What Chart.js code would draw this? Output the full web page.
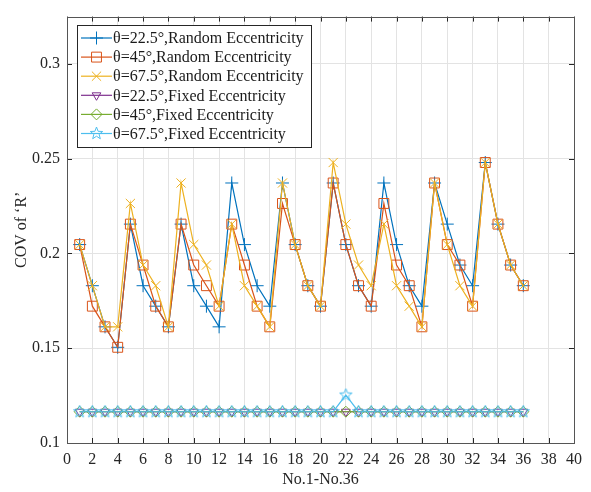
<!DOCTYPE html>
<html>
<head>
<meta charset="utf-8">
<script src="https://cdn.jsdelivr.net/npm/chart.js@4/dist/chart.umd.min.js"></script>
<style>
  body { margin: 0; background: #fff; }
  #wrap { width: 591px; height: 492px; }
</style>
</head>
<body>
<div id="wrap"><canvas id="c" width="591" height="492"></canvas></div>
<script>
// case numbers 1..36
const caseNo = [1,2,3,4,5,6,7,8,9,10,11,12,13,14,15,16,17,18,19,20,21,22,23,24,25,26,27,28,29,30,31,32,33,34,35,36];

const rand225 = [0.2047,0.1830,0.1613,0.1505,0.2155,0.1830,0.1722,0.1613,0.2155,0.1830,0.1722,0.1613,
                 0.2372,0.2047,0.1830,0.1722,0.2372,0.2047,0.1830,0.1722,0.2372,0.2047,0.1830,0.1722,
                 0.2372,0.2047,0.1830,0.1722,0.2372,0.2155,0.1939,0.1830,0.2480,0.2155,0.1939,0.1830];
const rand45  = [0.2047,0.1722,0.1613,0.1505,0.2155,0.1939,0.1722,0.1613,0.2155,0.1939,0.1830,0.1722,
                 0.2155,0.1939,0.1722,0.1613,0.2264,0.2047,0.1830,0.1722,0.2372,0.2047,0.1830,0.1722,
                 0.2264,0.1939,0.1830,0.1613,0.2372,0.2047,0.1939,0.1722,0.2480,0.2155,0.1939,0.1830];
const rand675 = [0.2047,0.1830,0.1613,0.1613,0.2264,0.1939,0.1830,0.1613,0.2372,0.2047,0.1939,0.1722,
                 0.2155,0.1830,0.1722,0.1613,0.2372,0.2047,0.1830,0.1722,0.2480,0.2155,0.1939,0.1830,
                 0.2155,0.1830,0.1722,0.1613,0.2372,0.2047,0.1830,0.1722,0.2480,0.2155,0.1939,0.1830];
const fix225  = [0.1165,0.1165,0.1165,0.1165,0.1165,0.1165,0.1165,0.1165,0.1165,0.1165,0.1165,0.1165,
                 0.1165,0.1165,0.1165,0.1165,0.1165,0.1165,0.1165,0.1165,0.1165,0.1165,0.1165,0.1165,
                 0.1165,0.1165,0.1165,0.1165,0.1165,0.1165,0.1165,0.1165,0.1165,0.1165,0.1165,0.1165];
const fix45   = [0.1165,0.1165,0.1165,0.1165,0.1165,0.1165,0.1165,0.1165,0.1165,0.1165,0.1165,0.1165,
                 0.1165,0.1165,0.1165,0.1165,0.1165,0.1165,0.1165,0.1165,0.1165,0.1165,0.1165,0.1165,
                 0.1165,0.1165,0.1165,0.1165,0.1165,0.1165,0.1165,0.1165,0.1165,0.1165,0.1165,0.1165];
const fix675  = [0.1165,0.1165,0.1165,0.1165,0.1165,0.1165,0.1165,0.1165,0.1165,0.1165,0.1165,0.1165,
                 0.1165,0.1165,0.1165,0.1165,0.1165,0.1165,0.1165,0.1165,0.1165,0.1253,0.1165,0.1165,
                 0.1165,0.1165,0.1165,0.1165,0.1165,0.1165,0.1165,0.1165,0.1165,0.1165,0.1165,0.1165];

const seriesNames = ['θ=22.5°,Random Eccentricity','θ=45°,Random Eccentricity','θ=67.5°,Random Eccentricity',
                     'θ=22.5°,Fixed Eccentricity','θ=45°,Fixed Eccentricity','θ=67.5°,Fixed Eccentricity'];
const xTicks = [0,2,4,6,8,10,12,14,16,18,20,22,24,26,28,30,32,34,36,38,40];
const yTicks = [0.1,0.15,0.2,0.25,0.3];

const FONT = '"Liberation Serif", "Times New Roman", serif';
const AXC = '#262626';

// matlab pentagram marker
function pentagram(color, r) {
  const s = Math.ceil(r * 2 + 4);
  const cv = document.createElement('canvas');
  cv.width = s; cv.height = s;
  const g = cv.getContext('2d');
  g.strokeStyle = color; g.lineWidth = 1;
  g.beginPath();
  for (let i = 0; i < 10; i++) {
    const a = -Math.PI / 2 + i * Math.PI / 5;
    const rr = i % 2 ? r * 0.42 : r;
    const px = s / 2 + rr * Math.cos(a), py = s / 2 + rr * Math.sin(a);
    i ? g.lineTo(px, py) : g.moveTo(px, py);
  }
  g.closePath(); g.stroke();
  return cv;
}
const starImg = pentagram('#4DBEEE', 6.5);

const styles = [
  { color: '#0072BD', pointStyle: 'cross', radius: 6.5, rotation: 0 },
  { color: '#D95319', pointStyle: 'rect', radius: 7, rotation: 0 },
  { color: '#EDB120', pointStyle: 'crossRot', radius: 6.5, rotation: 0 },
  { color: '#7E2F8E', pointStyle: 'triangle', radius: 5, rotation: 180 },
  { color: '#77AC30', pointStyle: 'rectRot', radius: 5.5, rotation: 0 },
  { color: '#4DBEEE', pointStyle: starImg, radius: 6.5, rotation: 0 },
];
const values = [rand225, rand45, rand675, fix225, fix45, fix675];

const datasets = values.map((arr, i) => ({
  label: seriesNames[i],
  data: caseNo.map((n, k) => ({ x: n, y: arr[k] })),
  borderColor: styles[i].color,
  backgroundColor: 'transparent',
  pointBackgroundColor: 'transparent',
  pointBorderColor: styles[i].color,
  pointStyle: styles[i].pointStyle,
  pointRadius: styles[i].radius,
  pointRotation: styles[i].rotation,
  pointBorderWidth: 1,
  borderWidth: 1.2,
  tension: 0,
  order: 5 - i
}));

const frame = {
  id: 'frame',
  afterDatasetsDraw(chart) {
    const { ctx, chartArea: a, scales: { x, y } } = chart;
    ctx.save();
    ctx.strokeStyle = AXC; ctx.lineWidth = 1;
    ctx.beginPath();
    xTicks.forEach(v => {
      const px = Math.round(x.getPixelForValue(v)) + 0.5;
      ctx.moveTo(px, a.bottom); ctx.lineTo(px, a.bottom - 5);
      ctx.moveTo(px, a.top); ctx.lineTo(px, a.top + 5);
    });
    yTicks.forEach(v => {
      const py = Math.round(y.getPixelForValue(v)) + 0.5;
      ctx.moveTo(a.left, py); ctx.lineTo(a.left + 5, py);
      ctx.moveTo(a.right, py); ctx.lineTo(a.right - 5, py);
    });
    ctx.stroke();
    ctx.strokeStyle = '#555';
    ctx.strokeRect(Math.round(a.left) + 0.5, Math.round(a.top) + 0.5, Math.round(a.right - a.left), Math.round(a.bottom - a.top));
    ctx.restore();
  }
};

const legendBox = {
  id: 'legendBox',
  afterDraw(chart) {
    const ctx = chart.ctx;
    const bx = 77, by = 25, bw = 234, bh = 122;
    ctx.save();
    ctx.fillStyle = '#fff';
    ctx.fillRect(bx, by, bw, bh);
    ctx.strokeStyle = '#262626'; ctx.lineWidth = 1;
    ctx.strokeRect(bx + 0.5, by + 0.5, bw, bh);
    ctx.font = '16px ' + FONT;
    ctx.textBaseline = 'middle';
    seriesNames.forEach((name, i) => {
      const cy = 38 + i * 19.1;
      const st = styles[i];
      ctx.strokeStyle = st.color; ctx.lineWidth = 1.2;
      ctx.beginPath(); ctx.moveTo(81, cy); ctx.lineTo(112, cy); ctx.stroke();
      ctx.fillStyle = 'transparent'; ctx.lineWidth = 1;
      Chart.helpers.drawPoint(ctx, { pointStyle: st.pointStyle, radius: st.radius, rotation: st.rotation, borderWidth: 1 }, 96.5, cy);
      ctx.fillStyle = '#1a1a1a';
      ctx.fillText(name, 113, cy + 1);
    });
    ctx.restore();
  }
};

new Chart(document.getElementById('c'), {
  type: 'line',
  data: { datasets },
  options: {
    responsive: false,
    devicePixelRatio: 1,
    animation: false,
    layout: { padding: { top: 15, right: 17, left: 0, bottom: 0 } },
    plugins: { legend: { display: false }, tooltip: { enabled: false } },
    scales: {
      x: {
        type: 'linear', min: 0, max: 40,
        afterFit: s => { s.height = 49; },
        afterBuildTicks: s => { s.ticks = xTicks.map(v => ({ value: v })); },
        grid: { color: '#e3e3e3', drawTicks: false },
        border: { display: false },
        ticks: { color: AXC, padding: 7, font: { family: FONT, size: 16 }, maxRotation: 0, autoSkip: false,
                 callback: v => String(v) },
        title: { display: true, text: 'No.1-No.36', color: AXC, font: { family: FONT, size: 16 }, padding: { top: 0, bottom: 3 } }
      },
      y: {
        type: 'linear', min: 0.1, max: 0.325,
        afterFit: s => { s.width = 67; },
        afterBuildTicks: s => { s.ticks = yTicks.map(v => ({ value: v })); },
        grid: { color: '#e3e3e3', drawTicks: false },
        border: { display: false },
        ticks: { color: AXC, padding: 7, font: { family: FONT, size: 16 }, autoSkip: false,
                 callback: v => String(+v.toFixed(2)) },
        title: { display: true, text: 'COV of ‘R’', color: AXC, font: { family: FONT, size: 16 }, padding: { top: 12, bottom: 0 } }
      }
    }
  },
  plugins: [frame, legendBox]
});
</script>
</body>
</html>
